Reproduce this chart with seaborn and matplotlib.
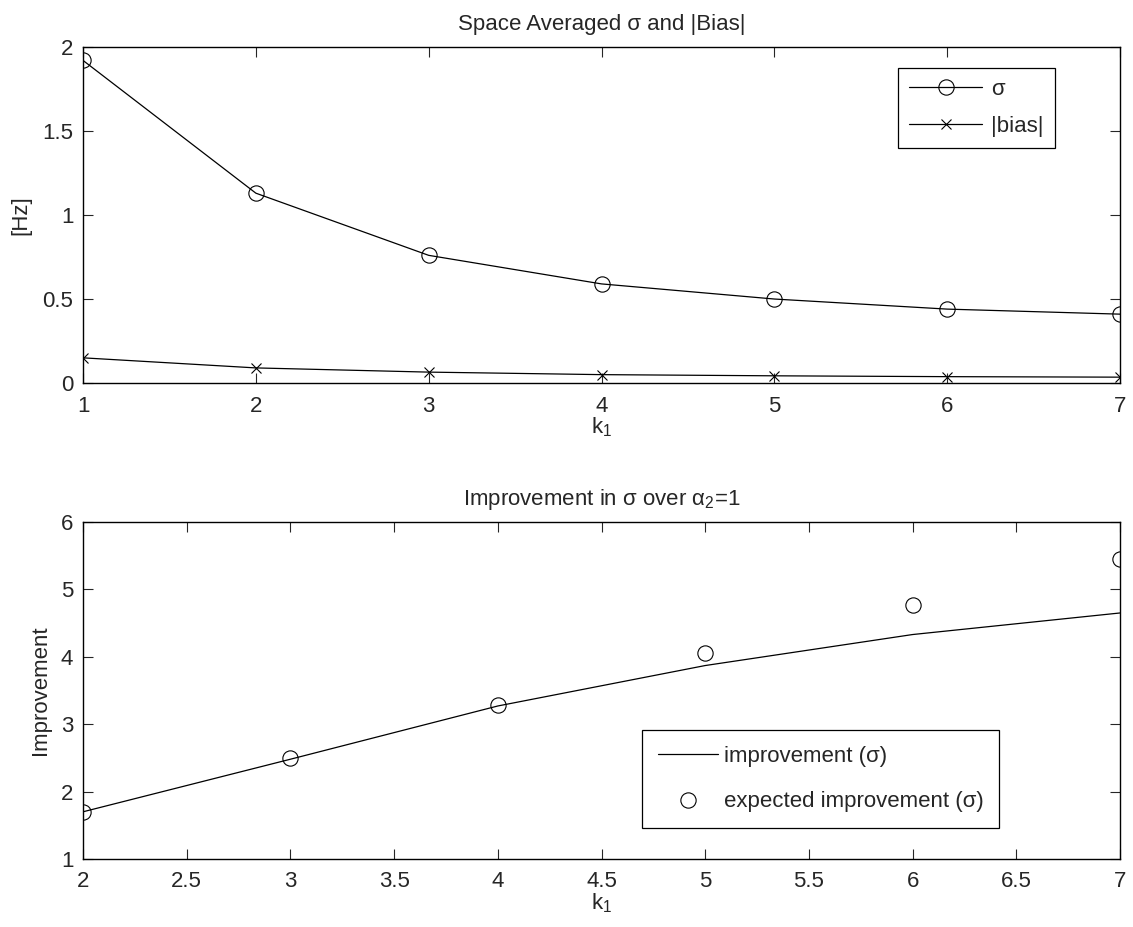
import matplotlib
matplotlib.use("Agg")
import matplotlib.pyplot as plt
import seaborn as sns
import pandas as pd

# --- Data ---
k1_top = [1, 2, 3, 4, 5, 6, 7]
sigma_hz = [1.92, 1.13, 0.76, 0.59, 0.50, 0.44, 0.41]
bias_hz = [0.15, 0.09, 0.065, 0.05, 0.043, 0.038, 0.035]

k1_bottom = [2, 3, 4, 5, 6, 7]
improvement = [1.70, 2.48, 3.27, 3.87, 4.33, 4.65]
expected_improvement = [1.69, 2.50, 3.29, 4.05, 4.77, 5.45]

# --- Style ---
sns.set_style("white")
plt.rcParams['font.family'] = ['Liberation Sans', 'DejaVu Sans']
plt.rcParams['mathtext.fontset'] = 'custom'
plt.rcParams['mathtext.rm'] = 'Liberation Sans'
plt.rcParams['mathtext.it'] = 'Liberation Sans'
plt.rcParams['mathtext.default'] = 'regular'
plt.rcParams['font.size'] = 16
plt.rcParams['axes.edgecolor'] = 'black'
plt.rcParams['axes.linewidth'] = 1.0

fig = plt.figure(figsize=(11.33, 9.27), dpi=100)
ax1 = fig.add_axes([0.0733, 0.5868, 0.9152, 0.3625])
ax2 = fig.add_axes([0.0733, 0.0734, 0.9152, 0.3635])

top_df = pd.DataFrame({"k1": k1_top, "sigma": sigma_hz, "bias": bias_hz})
bot_df = pd.DataFrame({"k1": k1_bottom, "imp": improvement, "exp": expected_improvement})

# --- Top panel ---
sns.lineplot(data=top_df, x="k1", y="sigma", ax=ax1, color="black", lw=0.9,
             marker="o", markersize=11, markerfacecolor="none",
             markeredgecolor="black", markeredgewidth=0.8, label="σ")
sns.lineplot(data=top_df, x="k1", y="bias", ax=ax1, color="black", lw=0.9,
             marker="x", markersize=7, markeredgecolor="black",
             markeredgewidth=0.8, label="|bias|")
ax1.set_xlim(1, 7)
ax1.set_ylim(0, 2)
ax1.set_xticks(k1_top)
ax1.set_yticks([0, 0.5, 1, 1.5, 2])
ax1.set_yticklabels(["0", "0.5", "1", "1.5", "2"])
ax1.set_title("Space Averaged σ and |Bias|", fontsize=16, pad=12)
ax1.set_xlabel("k$_1$", labelpad=-1)
ax1.set_ylabel("[Hz]", labelpad=8)
leg1 = ax1.legend(loc="upper right", bbox_to_anchor=(0.9373, 0.9375),
                  borderaxespad=0, handlelength=3.3, frameon=True,
                  fancybox=False, edgecolor="black", framealpha=1,
                  borderpad=0.5, labelspacing=0.7, handletextpad=0.4,
                  fontsize=16)
leg1.get_frame().set_linewidth(0.9)

# --- Bottom panel ---
sns.lineplot(data=bot_df, x="k1", y="imp", ax=ax2, color="black", lw=0.9,
             label="improvement (σ)")
sns.lineplot(data=bot_df, x="k1", y="exp", ax=ax2, color="black",
             linestyle="none", marker="o", markersize=11,
             markerfacecolor="none", markeredgecolor="black",
             markeredgewidth=0.8, label="expected improvement (σ)")
ax2.set_xlim(2, 7)
ax2.set_ylim(1, 6)
ax2.set_xticks([2, 2.5, 3, 3.5, 4, 4.5, 5, 5.5, 6, 6.5, 7])
ax2.set_xticklabels(["2", "2.5", "3", "3.5", "4", "4.5", "5", "5.5", "6", "6.5", "7"])
ax2.set_yticks([1, 2, 3, 4, 5, 6])
ax2.set_title("Improvement in σ over α$_2$=1", fontsize=16, pad=12)
ax2.set_xlabel("k$_1$", labelpad=-1)
ax2.set_ylabel("Improvement", labelpad=7)
leg2 = ax2.legend(loc="lower left", bbox_to_anchor=(0.539, 0.092),
                  borderaxespad=0, handlelength=2.7, frameon=True,
                  fancybox=False, edgecolor="black", framealpha=1,
                  borderpad=0.7, labelspacing=1.1, handletextpad=0.3,
                  fontsize=16)
leg2.get_frame().set_linewidth(0.9)

for ax in (ax1, ax2):
    ax.tick_params(direction="in", length=7, width=0.8, top=True, right=True,
                   bottom=True, left=True, labelsize=16)
    ax.tick_params(axis="x", pad=9)
    ax.tick_params(axis="y", pad=7)
    for sp in ax.spines.values():
        sp.set_visible(True)
        sp.set_color("black")
    ax.grid(False)

fig.savefig("out.png", dpi=100)
